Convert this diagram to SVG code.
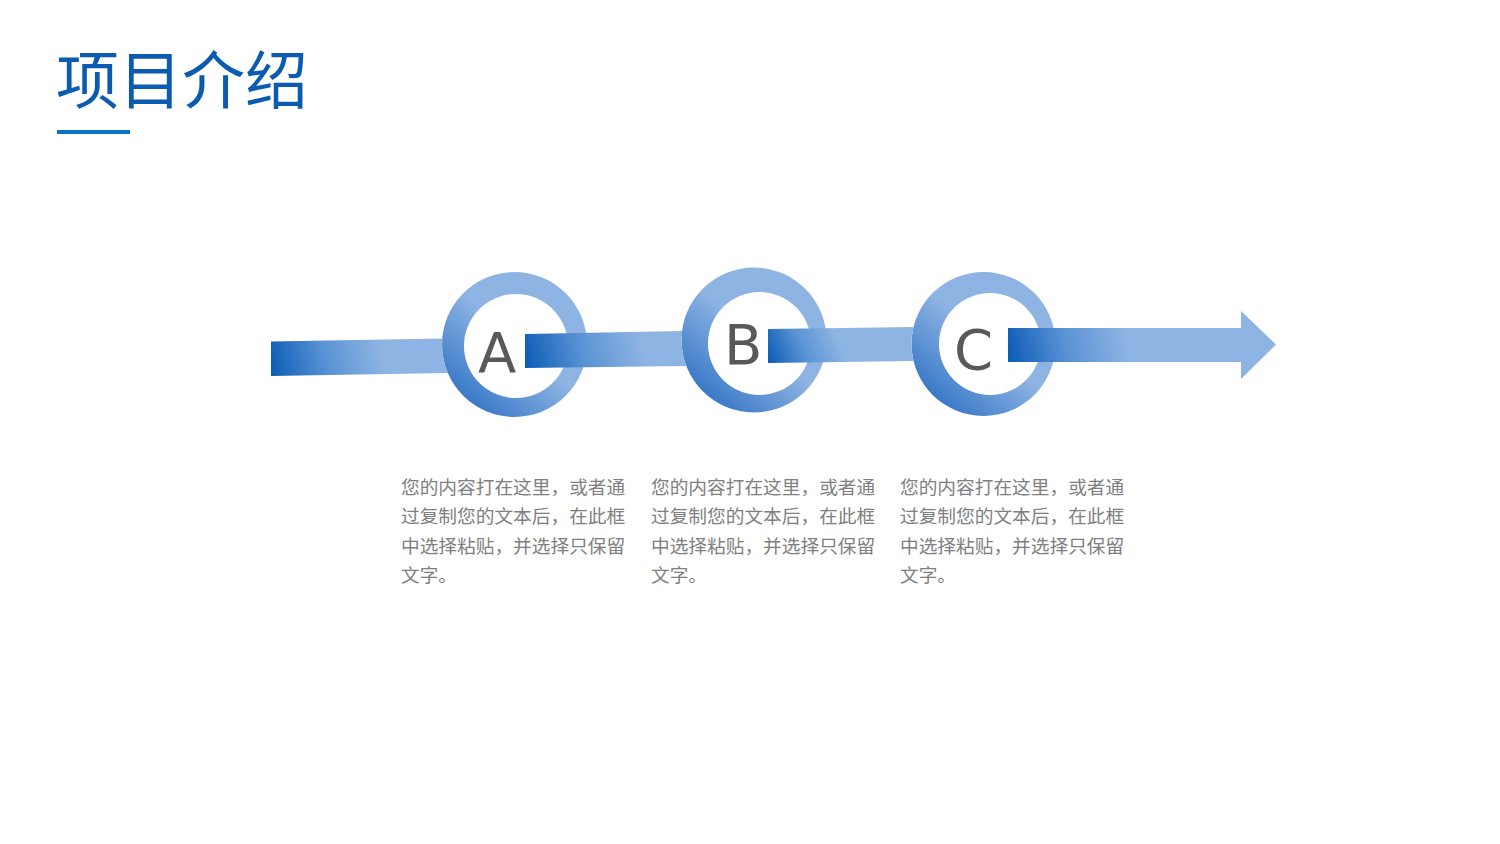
<svg xmlns="http://www.w3.org/2000/svg" width="1500" height="844" viewBox="0 0 1500 844">
<style>
.title{font-family:"Noto Sans CJK SC","Noto Sans",sans-serif;font-size:63px;fill:#0B5BB0}
.letter{font-family:"DejaVu Sans","Noto Sans",sans-serif;font-size:56px;fill:#595959}
.body{font-family:"Noto Sans CJK SC","Noto Sans",sans-serif;font-size:18.7px;fill:#808080}
</style>
<defs>
<linearGradient id="ring" x1="0.15" y1="0.95" x2="0.55" y2="0.5">
<stop offset="0" stop-color="#2F72C4"/>
<stop offset="1" stop-color="#8EB4E3"/>
</linearGradient>
<linearGradient id="g1" gradientUnits="userSpaceOnUse" x1="271" y1="372" x2="380" y2="345">
<stop offset="0" stop-color="#0B5CB5"/><stop offset="0.5" stop-color="#5A93D5"/><stop offset="1" stop-color="#8EB4E3"/>
</linearGradient>
<linearGradient id="g2" gradientUnits="userSpaceOnUse" x1="525" y1="366" x2="640" y2="336">
<stop offset="0" stop-color="#0B5CB5"/><stop offset="0.5" stop-color="#5A93D5"/><stop offset="1" stop-color="#8EB4E3"/>
</linearGradient>
<linearGradient id="g3" gradientUnits="userSpaceOnUse" x1="768" y1="361" x2="835" y2="332">
<stop offset="0" stop-color="#0B5CB5"/><stop offset="0.5" stop-color="#5A93D5"/><stop offset="1" stop-color="#8EB4E3"/>
</linearGradient>
<linearGradient id="g4" gradientUnits="userSpaceOnUse" x1="1008" y1="360" x2="1125" y2="332">
<stop offset="0" stop-color="#0B5CB5"/><stop offset="0.5" stop-color="#5A93D5"/><stop offset="1" stop-color="#8EB4E3"/>
</linearGradient>
</defs>
<rect width="1500" height="844" fill="#FFFFFF"/>
<g id="header">
<text class="title" x="56" y="103">项目介绍</text>
<rect x="57" y="130" width="73" height="4" fill="#0A74C4"/>
</g>
<g id="node-a">
<path d="M442,344.5 a72.5,72.5 0 1,0 145,0 a72.5,72.5 0 1,0 -145,0 Z M464,346 a52,52 0 1,1 104,0 a52,52 0 1,1 -104,0 Z" fill="url(#ring)" fill-rule="evenodd"/>
<text class="letter" x="478" y="372">A</text>
</g>
<g id="node-b">
<path d="M681.5,340 a72.5,72.5 0 1,0 145,0 a72.5,72.5 0 1,0 -145,0 Z M708,343.5 a51.5,51.5 0 1,1 103,0 a51.5,51.5 0 1,1 -103,0 Z" fill="url(#ring)" fill-rule="evenodd"/>
<text class="letter" x="724" y="364">B</text>
</g>
<g id="node-c">
<path d="M911.5,344 a72,72 0 1,0 144,0 a72,72 0 1,0 -144,0 Z M939,344 a51,51 0 1,1 102,0 a51,51 0 1,1 -102,0 Z" fill="url(#ring)" fill-rule="evenodd"/>
<text class="letter" x="954" y="369">C</text>
</g>
<g id="connectors">
<path d="M271,341.5 L442.3,338.5 A72.5,72.5 0 0,0 447.8,373 L271,376 Z" fill="url(#g1)"/>
<path d="M525,334 L682.1,331 A72.5,72.5 0 0,0 686.3,366 L525,368 Z" fill="url(#g2)"/>
<path d="M768,329 L913.5,327 A72,72 0 0,0 913.5,361 L768,363 Z" fill="url(#g3)"/>
<path d="M1008,328 L1241,328 L1241,311 L1276,344.5 L1241,379 L1241,362 L1008,362 Z" fill="url(#g4)"/>
</g>
<g id="text-a">
<text class="body" x="401" y="494">您的内容打在这里，或者通</text>
<text class="body" x="401" y="523.3">过复制您的文本后，在此框</text>
<text class="body" x="401" y="552.6">中选择粘贴，并选择只保留</text>
<text class="body" x="401" y="582">文字。</text>
</g>
<g id="text-b">
<text class="body" x="651" y="494">您的内容打在这里，或者通</text>
<text class="body" x="651" y="523.3">过复制您的文本后，在此框</text>
<text class="body" x="651" y="552.6">中选择粘贴，并选择只保留</text>
<text class="body" x="651" y="582">文字。</text>
</g>
<g id="text-c">
<text class="body" x="900" y="494">您的内容打在这里，或者通</text>
<text class="body" x="900" y="523.3">过复制您的文本后，在此框</text>
<text class="body" x="900" y="552.6">中选择粘贴，并选择只保留</text>
<text class="body" x="900" y="582">文字。</text>
</g>
</svg>
